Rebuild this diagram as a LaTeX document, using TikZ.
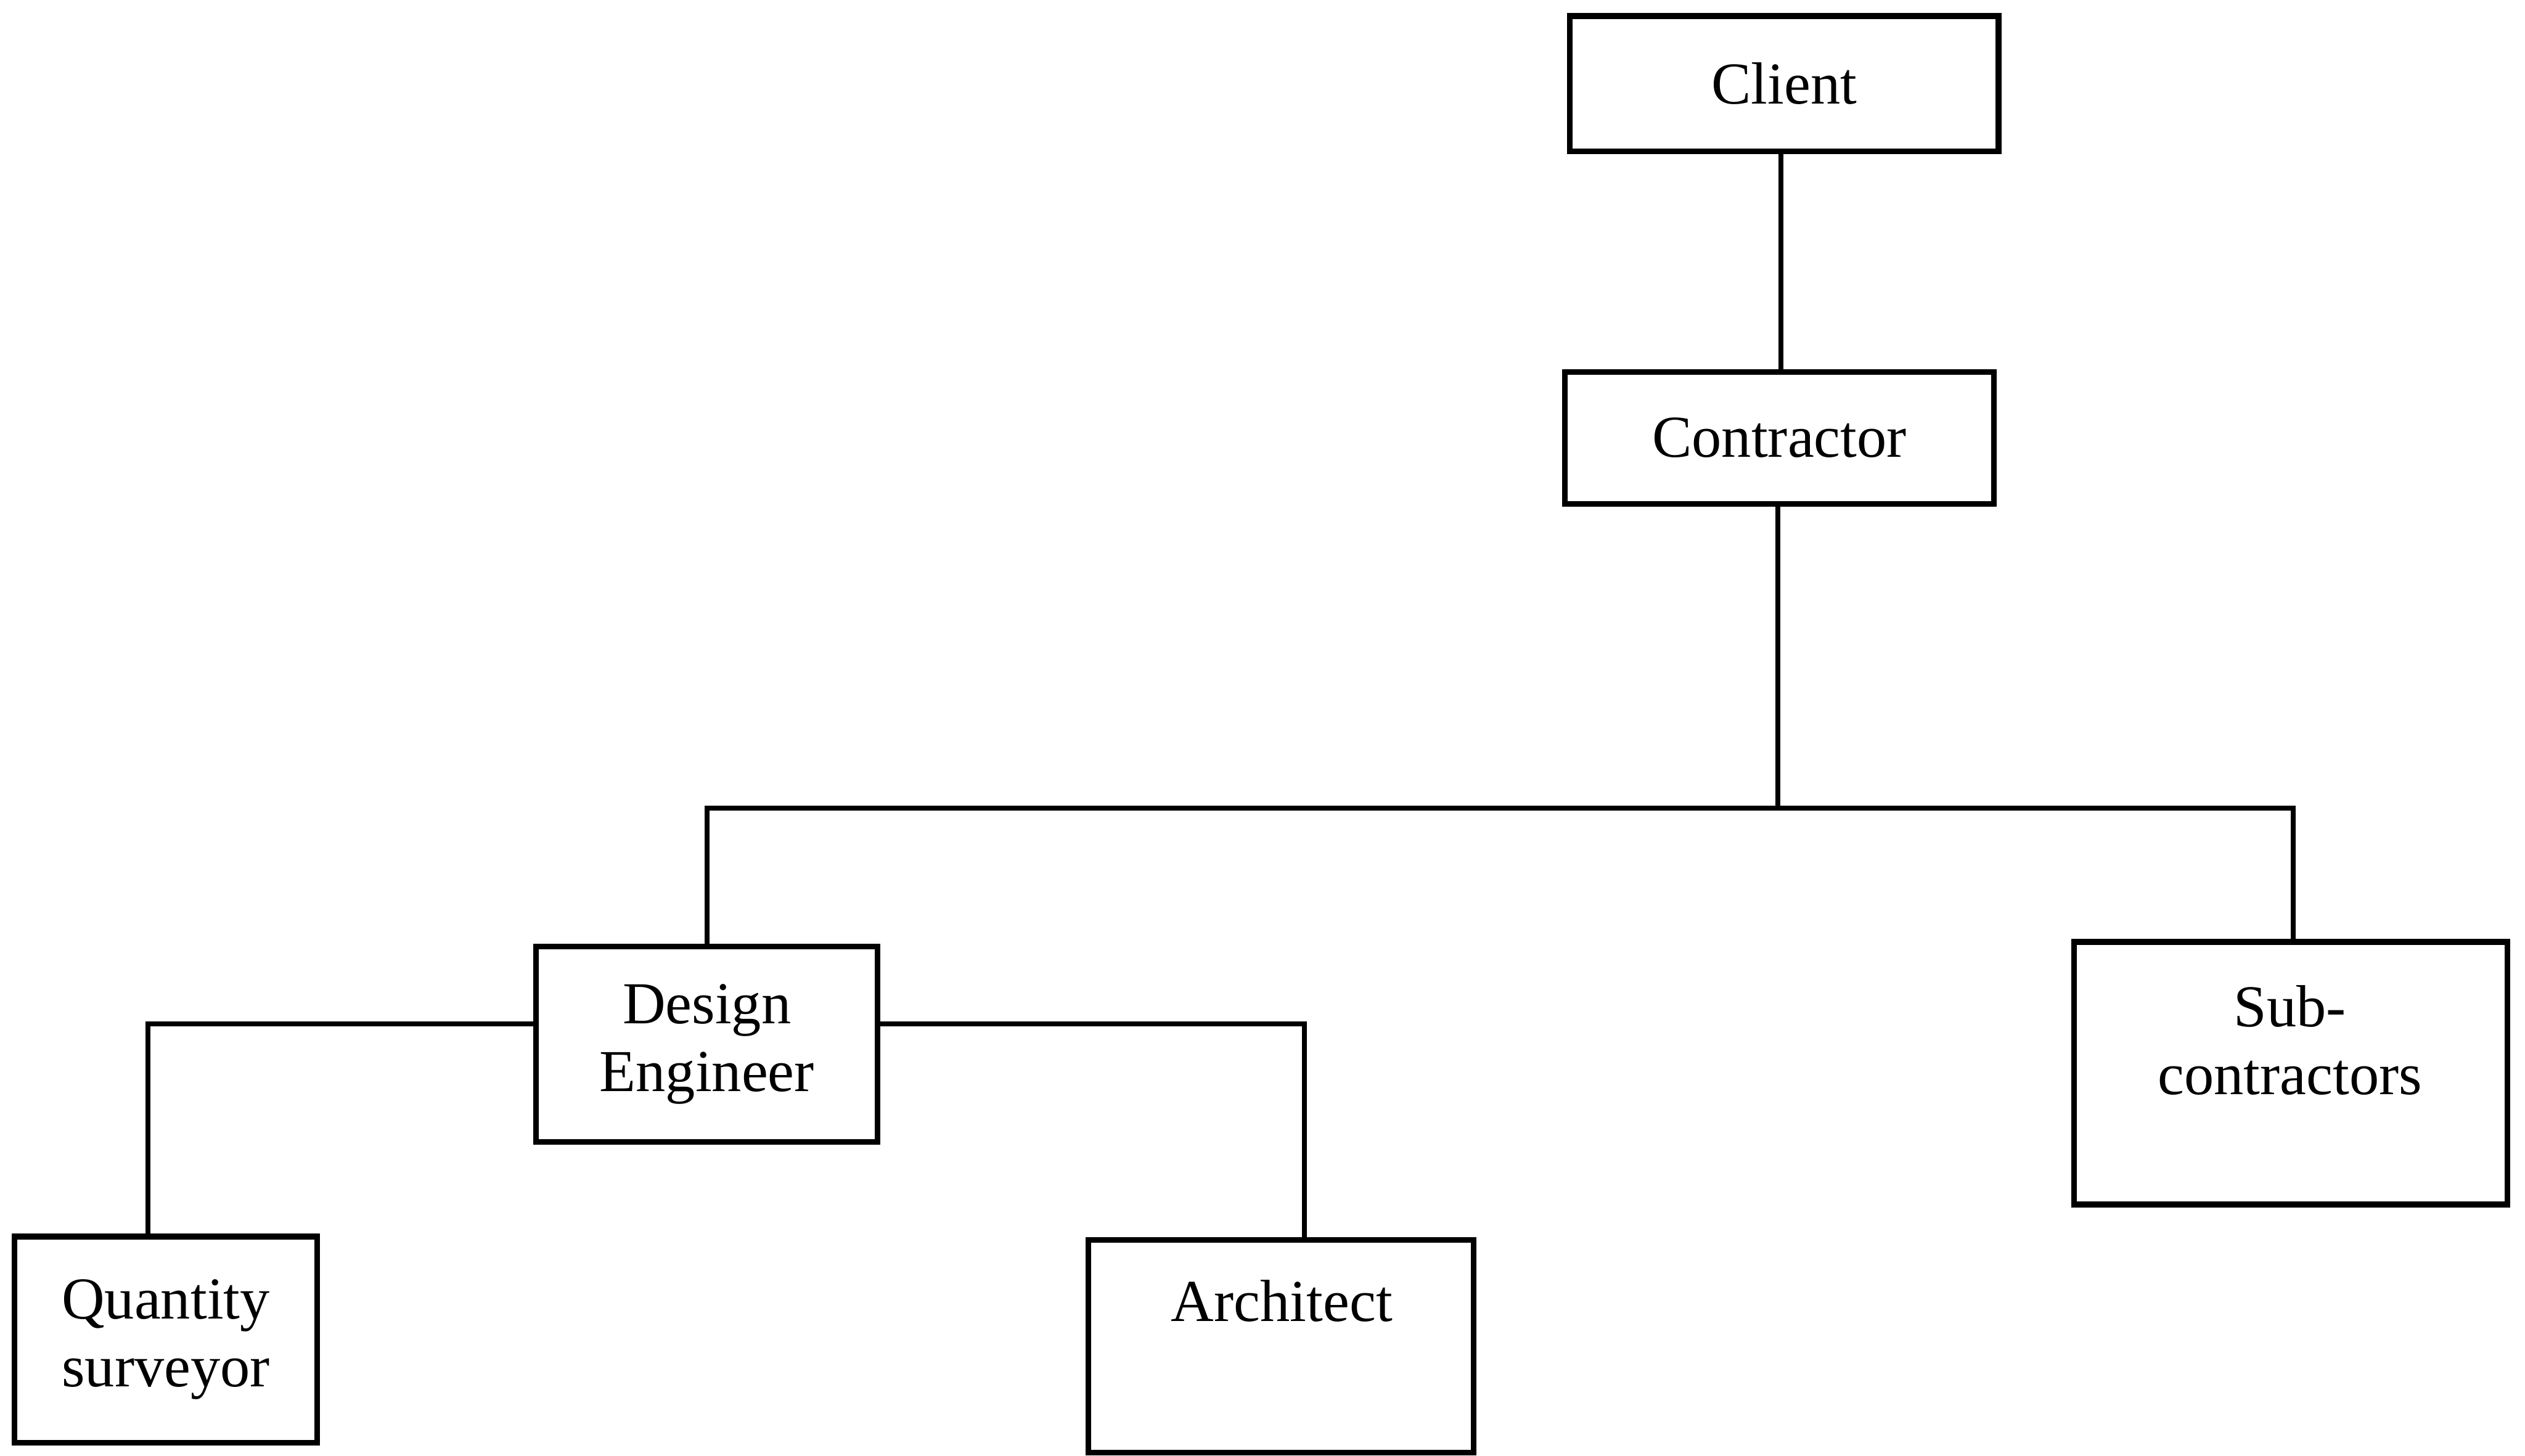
\documentclass[tikz,border=0pt]{standalone}
\usepackage{fontspec}
\setmainfont{Liberation Serif}
\begin{document}
\begin{tikzpicture}[x=0.01cm, y=-0.01cm,
  box/.style={draw, line width=1pt, rectangle, inner sep=0pt, align=center,
              font=\fontsize{10.5}{12}\selectfont},
  txt/.style={inner sep=0pt, align=center, font=\fontsize{10.5}{12}\selectfont},
  link/.style={line width=0.85pt, line cap=rect}]
  \useasboundingbox (0,0) rectangle (1568,904);

  % boxes
  \node[box, minimum width=2.66cm, minimum height=0.84cm] (client) at (1108,52) {Client};
  \node[box, minimum width=2.66cm, minimum height=0.82cm] (contractor) at (1105,272) {Contractor};
  \node[box, minimum width=2.12cm, minimum height=1.21cm] (de) at (439,648.5) {Design\\Engineer};
  \node[box, minimum width=2.69cm, minimum height=1.63cm] (sub) at (1422.5,666.5) {};
  \node[txt] (subtxt) at (1422,646) {Sub-\\contractors};
  \node[box, minimum width=1.88cm, minimum height=1.28cm] (qs) at (103,832) {Quantity\\surveyor};
  \node[box, minimum width=2.39cm, minimum height=1.32cm] (arch) at (795.5,836) {};
  \node[txt] (archtxt) at (796,808) {Architect};

  % junction points
  \coordinate (spine) at (1106,0);
  \coordinate (bus) at (1104,502);
  \coordinate (subdrop) at (1424,0);
  \coordinate (deside) at (439,636);
  \coordinate (qsdrop) at (92,768);
  \coordinate (archdrop) at (810,770);

  % connectors
  \draw[link] (client.south -| spine) -- (contractor.north -| spine);
  \draw[link] (contractor.south -| bus) -- (bus);
  \draw[link] (de.north) -- (de.north |- bus) -- (subdrop |- bus) -- (subdrop |- sub.north);
  \draw[link] (de.west |- deside) -| (qsdrop);
  \draw[link] (de.east |- deside) -| (archdrop);
\end{tikzpicture}
\end{document}
